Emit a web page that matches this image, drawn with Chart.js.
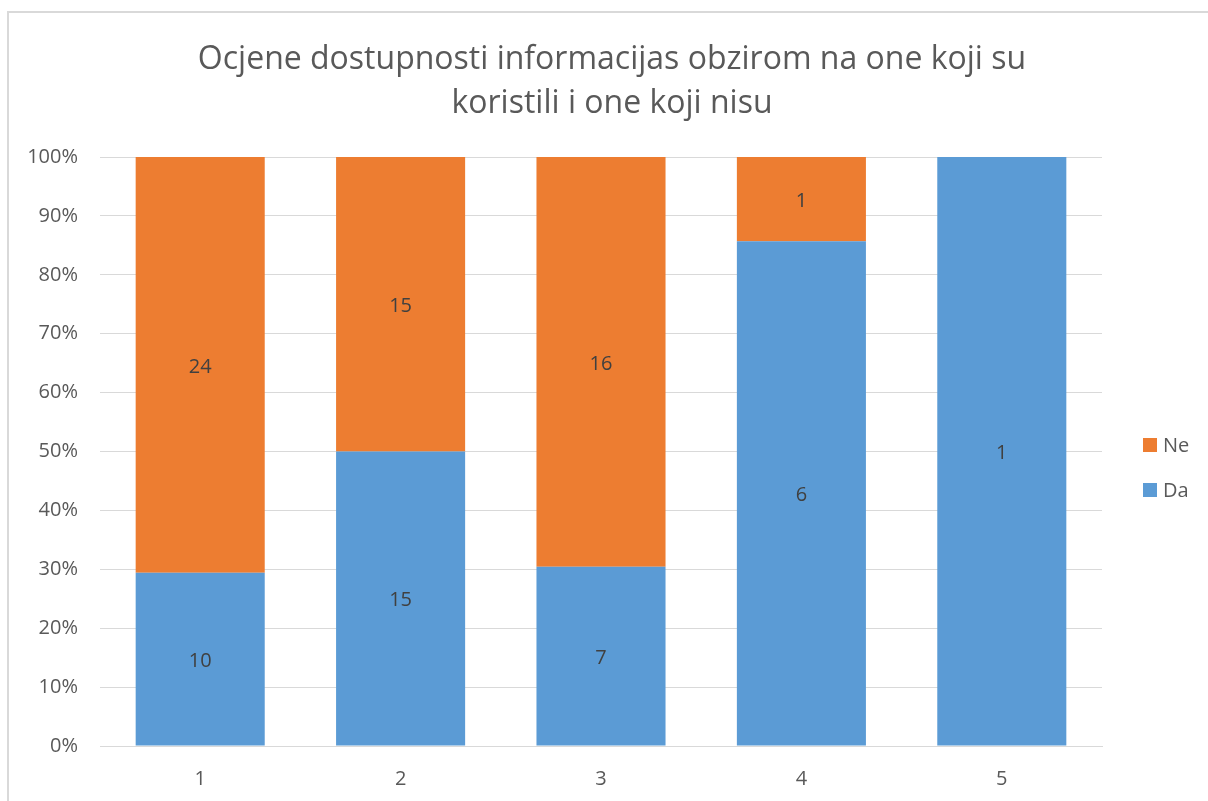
<!DOCTYPE html>
<html>
<head>
<meta charset="utf-8">
<script src="https://cdn.jsdelivr.net/npm/chart.js@4.4.1/dist/chart.umd.min.js"></script>
<style>
  html, body { margin: 0; padding: 0; background: #fff; overflow: hidden; }
  #okvir {
    position: absolute; left: 7px; top: 11px; width: 1400px; height: 1000px;
    border: 2px solid #d9d9d9; box-sizing: border-box;
  }
  #wrap { position: absolute; left: 0; top: 0; width: 1208px; height: 801px; }
</style>
</head>
<body>
<div id="okvir"></div>
<div id="wrap"><canvas id="grafik" width="1208" height="801"></canvas></div>
<script>
// ocjene 1-5, broj ispitanika po odgovoru
const ocjene = ['1', '2', '3', '4', '5'];
const da = [10, 15, 7, 6, 1];
const ne = [24, 15, 16, 1, 0];
const naslov = ['Ocjene dostupnosti informacijas obzirom na one koji su', 'koristili i one koji nisu'];

const FONT = '"Open Sans", "Noto Sans", sans-serif';
const SIVA = '#595959';

// udio u stupcu (100% stacked)
const ukupno = ocjene.map((_, i) => da[i] + ne[i]);
const daPosto = da.map((v, i) => v / ukupno[i] * 100);
const nePosto = ne.map((v, i) => v / ukupno[i] * 100);

// brojevi unutar segmenata
const oznake = {
  id: 'oznake',
  afterDatasetsDraw(chart) {
    const ctx = chart.ctx;
    ctx.save();
    ctx.font = '20px ' + FONT;
    ctx.fillStyle = '#404040';
    ctx.textAlign = 'center';
    ctx.textBaseline = 'middle';
    chart.data.datasets.forEach((ds, di) => {
      const meta = chart.getDatasetMeta(di);
      meta.data.forEach((bar, i) => {
        const n = ds.counts[i];
        if (!n) return;
        const y = (bar.y + bar.base) / 2 + 2;
        ctx.fillText(String(n), bar.x, y);
      });
    });
    ctx.restore();
  }
};

// legenda desno od grafa
const legenda = {
  id: 'legenda',
  afterDraw(chart) {
    const ctx = chart.ctx;
    const area = chart.chartArea;
    ctx.save();
    ctx.font = '20px ' + FONT;
    ctx.textBaseline = 'middle';
    const items = chart.data.datasets.slice().reverse();
    items.forEach((ds, k) => {
      const y = 445 + k * 45;
      const x = area.right + 41;
      ctx.fillStyle = ds.backgroundColor;
      ctx.fillRect(x, y - 7, 14, 14);
      ctx.fillStyle = SIVA;
      ctx.fillText(ds.label, x + 20, y + 1);
    });
    ctx.restore();
  }
};

new Chart(document.getElementById('grafik'), {
  type: 'bar',
  data: {
    labels: ocjene,
    datasets: [
      { label: 'Da', data: daPosto, counts: da, backgroundColor: '#5b9bd5' },
      { label: 'Ne', data: nePosto, counts: ne, backgroundColor: '#ed7d31' }
    ]
  },
  options: {
    responsive: false,
    animation: false,
    events: [],
    categoryPercentage: 1,
    barPercentage: 0.644,
    layout: { padding: { left: 16, right: 0, top: 38, bottom: 0 } },
    plugins: {
      legend: { display: false },
      tooltip: { enabled: false },
      title: {
        display: true,
        text: naslov,
        color: SIVA,
        font: { family: FONT, size: 32, weight: 'normal', lineHeight: 1.375 },
        padding: { top: 0, bottom: 31 }
      }
    },
    scales: {
      x: {
        stacked: true,
        grid: { display: false, drawTicks: false },
        border: { color: '#d9d9d9', width: 1 },
        ticks: { color: SIVA, font: { family: FONT, size: 20 }, padding: 21 },
        afterFit(s) { s.height = 55; }
      },
      y: {
        stacked: true,
        min: 0,
        max: 100,
        grid: { color: '#d9d9d9', drawTicks: false },
        border: { display: false },
        ticks: {
          stepSize: 10,
          color: SIVA,
          font: { family: FONT, size: 20 },
          padding: 22,
          callback: v => v + '%'
        },
        afterFit(s) { s.width = 84; }
      },
      // prazan prostor desno za legendu
      desno: {
        position: 'right',
        grid: { display: false, drawTicks: false },
        border: { display: false },
        ticks: { display: false },
        afterFit(s) { s.width = 106; }
      }
    }
  },
  plugins: [oznake, legenda]
});
</script>
</body>
</html>
